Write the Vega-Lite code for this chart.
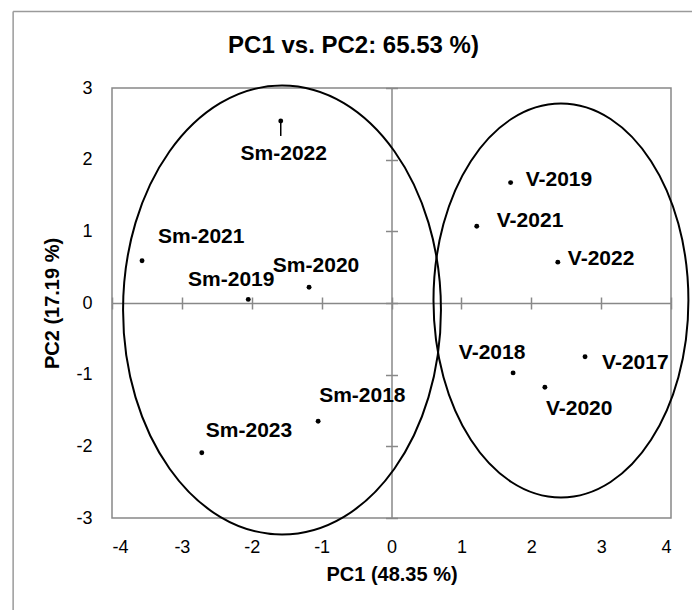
{
  "$schema": "https://vega.github.io/schema/vega-lite/v6.json",
  "autosize": {"type": "none"},
  "width": 559,
  "height": 430,
  "padding": {"left": 112, "top": 88, "right": 21, "bottom": 92},
  "background": "white",
  "config": {
    "view": {"stroke": "#888888", "strokeWidth": 1.5},
    "font": "Liberation Sans",
    "axis": {"grid": false}
  },
  "title": {
    "text": "PC1 vs. PC2: 65.53 %)",
    "fontSize": 24,
    "fontWeight": "bold",
    "font": "Liberation Sans",
    "color": "black",
    "anchor": "middle",
    "dx": -38,
    "offset": -47
  },
  "datasets": {
    "samples": [
      {"name": "Sm-2022", "PC1": -1.585, "PC2": 2.54},
      {"name": "Sm-2021", "PC1": -3.57, "PC2": 0.59},
      {"name": "Sm-2019", "PC1": -2.05, "PC2": 0.05},
      {"name": "Sm-2020", "PC1": -1.18, "PC2": 0.22},
      {"name": "Sm-2023", "PC1": -2.715, "PC2": -2.09},
      {"name": "Sm-2018", "PC1": -1.05, "PC2": -1.65},
      {"name": "V-2019", "PC1": 1.705, "PC2": 1.68},
      {"name": "V-2021", "PC1": 1.22, "PC2": 1.07},
      {"name": "V-2022", "PC1": 2.38, "PC2": 0.57},
      {"name": "V-2018", "PC1": 1.74, "PC2": -0.975},
      {"name": "V-2020", "PC1": 2.195, "PC2": -1.175},
      {"name": "V-2017", "PC1": 2.77, "PC2": -0.75}
    ],
    "groups": [
      {"group": "Sm", "PC1": -1.567, "PC2": -0.098},
      {"group": "V", "PC1": 2.425, "PC2": 0.035}
    ],
    "frame": [
      {"PC1": -5.415, "PC2": 4.067, "PC1end": 5.2, "PC2end": -4.6}
    ]
  },
  "resolve": {"axis": {"x": "independent", "y": "independent"}},
  "layer": [
    {
      "data": {"name": "frame"},
      "mark": {"type": "rule", "color": "#9a9a9a", "strokeWidth": 1.5, "clip": false},
      "encoding": {
        "x": {"field": "PC1", "type": "quantitative", "scale": {"domain": [-4, 4], "nice": false, "zero": false},
          "axis": {"orient": "bottom", "values": [-4, -3, -2, -1, 0, 1, 2, 3, 4], "ticks": false, "domain": false,
            "labelPadding": 20, "labelFontSize": 18, "labelColor": "black", "labelFont": "Liberation Sans",
            "labelExpr": "datum.value < 0 ? '-' + abs(datum.value) : '' + datum.value",
            "title": "PC1 (48.35 %)", "titleFontSize": 20, "titleFontWeight": "bold", "titleColor": "black",
            "titleFont": "Liberation Sans", "titlePadding": 8}},
        "x2": {"field": "PC1end"},
        "y": {"field": "PC2", "type": "quantitative", "scale": {"domain": [-3, 3], "nice": false, "zero": false},
          "axis": {"orient": "left", "values": [-3, -2, -1, 0, 1, 2, 3], "ticks": false, "domain": false,
            "labelPadding": 20, "labelFontSize": 18, "labelColor": "black", "labelFont": "Liberation Sans",
            "labelExpr": "datum.value < 0 ? '-' + abs(datum.value) : '' + datum.value",
            "title": "PC2 (17.19 %)", "titleFontSize": 20, "titleFontWeight": "bold", "titleColor": "black",
            "titleFont": "Liberation Sans", "titlePadding": 13}}
      }
    },
    {
      "data": {"name": "frame"},
      "mark": {"type": "rule", "color": "#9a9a9a", "strokeWidth": 1.5, "clip": false},
      "encoding": {
        "x": {"field": "PC1", "type": "quantitative",
          "axis": {"orient": "bottom", "offset": -215, "values": [-4, -3, -2, -1, 0, 1, 2, 3, 4], "ticks": true, "tickSize": 6,
            "tickColor": "#888888", "tickWidth": 1.5, "domain": true, "domainColor": "#888888", "domainWidth": 1.5,
            "labels": false, "title": null}},
        "y": {"field": "PC2", "type": "quantitative",
          "axis": {"orient": "left", "offset": -279.5, "values": [-3, -2, -1, 0, 1, 2, 3], "ticks": true, "tickSize": 6,
            "tickColor": "#888888", "tickWidth": 1.5, "domain": true, "domainColor": "#888888", "domainWidth": 1.5,
            "labels": false, "title": null}},
        "y2": {"field": "PC2end"}
      }
    },
    {
      "data": {"name": "groups"},
      "transform": [{"filter": "datum.group === 'Sm'"}],
      "mark": {"type": "point", "filled": false, "stroke": "black", "strokeWidth": 2, "opacity": 1, "clip": false,
        "size": 201601, "shape": "M -0.708 0 A 0.708 1 0 1 1 0.708 0 A 0.708 1 0 1 1 -0.708 0 Z"},
      "encoding": {
        "x": {"field": "PC1", "type": "quantitative",
          "axis": {"orient": "top", "offset": -215, "values": [-4, -3, -2, -1, 0, 1, 2, 3, 4], "ticks": true, "tickSize": 6,
            "tickColor": "#888888", "tickWidth": 1.5, "domain": false, "labels": false, "title": null}},
        "y": {"field": "PC2", "type": "quantitative",
          "axis": {"orient": "right", "offset": -279.5, "values": [-3, -2, -1, 0, 1, 2, 3], "ticks": true, "tickSize": 6,
            "tickColor": "#888888", "tickWidth": 1.5, "domain": false, "labels": false, "title": null}}
      }
    },
    {
      "data": {"name": "groups"},
      "transform": [{"filter": "datum.group === 'V'"}],
      "mark": {"type": "point", "filled": false, "stroke": "black", "strokeWidth": 2, "opacity": 1, "clip": false,
        "size": 155236, "shape": "M -0.647 0 A 0.647 1 0 1 1 0.647 0 A 0.647 1 0 1 1 -0.647 0 Z"},
      "encoding": {
        "x": {"field": "PC1", "type": "quantitative", "axis": null},
        "y": {"field": "PC2", "type": "quantitative", "axis": null}
      }
    },
    {
      "data": {"name": "samples"},
      "transform": [{"filter": "datum.name === 'Sm-2022'"}],
      "mark": {"type": "rule", "color": "black", "strokeWidth": 1.5, "y2Offset": 15},
      "encoding": {
        "x": {"field": "PC1", "type": "quantitative", "axis": null},
        "y": {"field": "PC2", "type": "quantitative", "axis": null},
        "y2": {"field": "PC2"}
      }
    },
    {
      "data": {"name": "samples"},
      "mark": {"type": "point", "filled": true, "color": "black", "size": 24, "opacity": 1},
      "encoding": {
        "x": {"field": "PC1", "type": "quantitative", "axis": null},
        "y": {"field": "PC2", "type": "quantitative", "axis": null}
      }
    },
    {
      "data": {"name": "samples"},
      "transform": [{"filter": "datum.name === 'Sm-2022'"}],
      "mark": {"type": "text", "font": "Liberation Sans", "fontWeight": "bold", "fontSize": 21, "color": "black", "align": "center", "baseline": "middle", "dx": 3, "dy": 33},
      "encoding": {"x": {"field": "PC1", "type": "quantitative", "axis": null}, "y": {"field": "PC2", "type": "quantitative", "axis": null}, "text": {"field": "name"}}
    },
    {
      "data": {"name": "samples"},
      "transform": [{"filter": "datum.name === 'Sm-2019'"}],
      "mark": {"type": "text", "font": "Liberation Sans", "fontWeight": "bold", "fontSize": 21, "color": "black", "align": "center", "baseline": "middle", "dx": -17, "dy": -19},
      "encoding": {"x": {"field": "PC1", "type": "quantitative", "axis": null}, "y": {"field": "PC2", "type": "quantitative", "axis": null}, "text": {"field": "name"}}
    },
    {
      "data": {"name": "samples"},
      "transform": [{"filter": "datum.name === 'Sm-2020'"}],
      "mark": {"type": "text", "font": "Liberation Sans", "fontWeight": "bold", "fontSize": 21, "color": "black", "align": "center", "baseline": "middle", "dx": 7, "dy": -21},
      "encoding": {"x": {"field": "PC1", "type": "quantitative", "axis": null}, "y": {"field": "PC2", "type": "quantitative", "axis": null}, "text": {"field": "name"}}
    },
    {
      "data": {"name": "samples"},
      "transform": [{"filter": "datum.name === 'V-2018'"}],
      "mark": {"type": "text", "font": "Liberation Sans", "fontWeight": "bold", "fontSize": 21, "color": "black", "align": "center", "baseline": "middle", "dx": -21, "dy": -20},
      "encoding": {"x": {"field": "PC1", "type": "quantitative", "axis": null}, "y": {"field": "PC2", "type": "quantitative", "axis": null}, "text": {"field": "name"}}
    },
    {
      "data": {"name": "samples"},
      "transform": [{"filter": "datum.name === 'Sm-2021'"}],
      "mark": {"type": "text", "font": "Liberation Sans", "fontWeight": "bold", "fontSize": 21, "color": "black", "align": "left", "baseline": "middle", "dx": 16, "dy": -24},
      "encoding": {"x": {"field": "PC1", "type": "quantitative", "axis": null}, "y": {"field": "PC2", "type": "quantitative", "axis": null}, "text": {"field": "name"}}
    },
    {
      "data": {"name": "samples"},
      "transform": [{"filter": "datum.name === 'Sm-2023'"}],
      "mark": {"type": "text", "font": "Liberation Sans", "fontWeight": "bold", "fontSize": 21, "color": "black", "align": "left", "baseline": "middle", "dx": 4, "dy": -22},
      "encoding": {"x": {"field": "PC1", "type": "quantitative", "axis": null}, "y": {"field": "PC2", "type": "quantitative", "axis": null}, "text": {"field": "name"}}
    },
    {
      "data": {"name": "samples"},
      "transform": [{"filter": "datum.name === 'Sm-2018'"}],
      "mark": {"type": "text", "font": "Liberation Sans", "fontWeight": "bold", "fontSize": 21, "color": "black", "align": "left", "baseline": "middle", "dx": 1, "dy": -25},
      "encoding": {"x": {"field": "PC1", "type": "quantitative", "axis": null}, "y": {"field": "PC2", "type": "quantitative", "axis": null}, "text": {"field": "name"}}
    },
    {
      "data": {"name": "samples"},
      "transform": [{"filter": "datum.name === 'V-2019'"}],
      "mark": {"type": "text", "font": "Liberation Sans", "fontWeight": "bold", "fontSize": 21, "color": "black", "align": "left", "baseline": "middle", "dx": 15, "dy": -3},
      "encoding": {"x": {"field": "PC1", "type": "quantitative", "axis": null}, "y": {"field": "PC2", "type": "quantitative", "axis": null}, "text": {"field": "name"}}
    },
    {
      "data": {"name": "samples"},
      "transform": [{"filter": "datum.name === 'V-2021'"}],
      "mark": {"type": "text", "font": "Liberation Sans", "fontWeight": "bold", "fontSize": 21, "color": "black", "align": "left", "baseline": "middle", "dx": 20, "dy": -5},
      "encoding": {"x": {"field": "PC1", "type": "quantitative", "axis": null}, "y": {"field": "PC2", "type": "quantitative", "axis": null}, "text": {"field": "name"}}
    },
    {
      "data": {"name": "samples"},
      "transform": [{"filter": "datum.name === 'V-2022'"}],
      "mark": {"type": "text", "font": "Liberation Sans", "fontWeight": "bold", "fontSize": 21, "color": "black", "align": "left", "baseline": "middle", "dx": 10, "dy": -3},
      "encoding": {"x": {"field": "PC1", "type": "quantitative", "axis": null}, "y": {"field": "PC2", "type": "quantitative", "axis": null}, "text": {"field": "name"}}
    },
    {
      "data": {"name": "samples"},
      "transform": [{"filter": "datum.name === 'V-2020'"}],
      "mark": {"type": "text", "font": "Liberation Sans", "fontWeight": "bold", "fontSize": 21, "color": "black", "align": "left", "baseline": "middle", "dx": 1, "dy": 22},
      "encoding": {"x": {"field": "PC1", "type": "quantitative", "axis": null}, "y": {"field": "PC2", "type": "quantitative", "axis": null}, "text": {"field": "name"}}
    },
    {
      "data": {"name": "samples"},
      "transform": [{"filter": "datum.name === 'V-2017'"}],
      "mark": {"type": "text", "font": "Liberation Sans", "fontWeight": "bold", "fontSize": 21, "color": "black", "align": "left", "baseline": "middle", "dx": 17, "dy": 6},
      "encoding": {"x": {"field": "PC1", "type": "quantitative", "axis": null}, "y": {"field": "PC2", "type": "quantitative", "axis": null}, "text": {"field": "name"}}
    }
  ]
}
